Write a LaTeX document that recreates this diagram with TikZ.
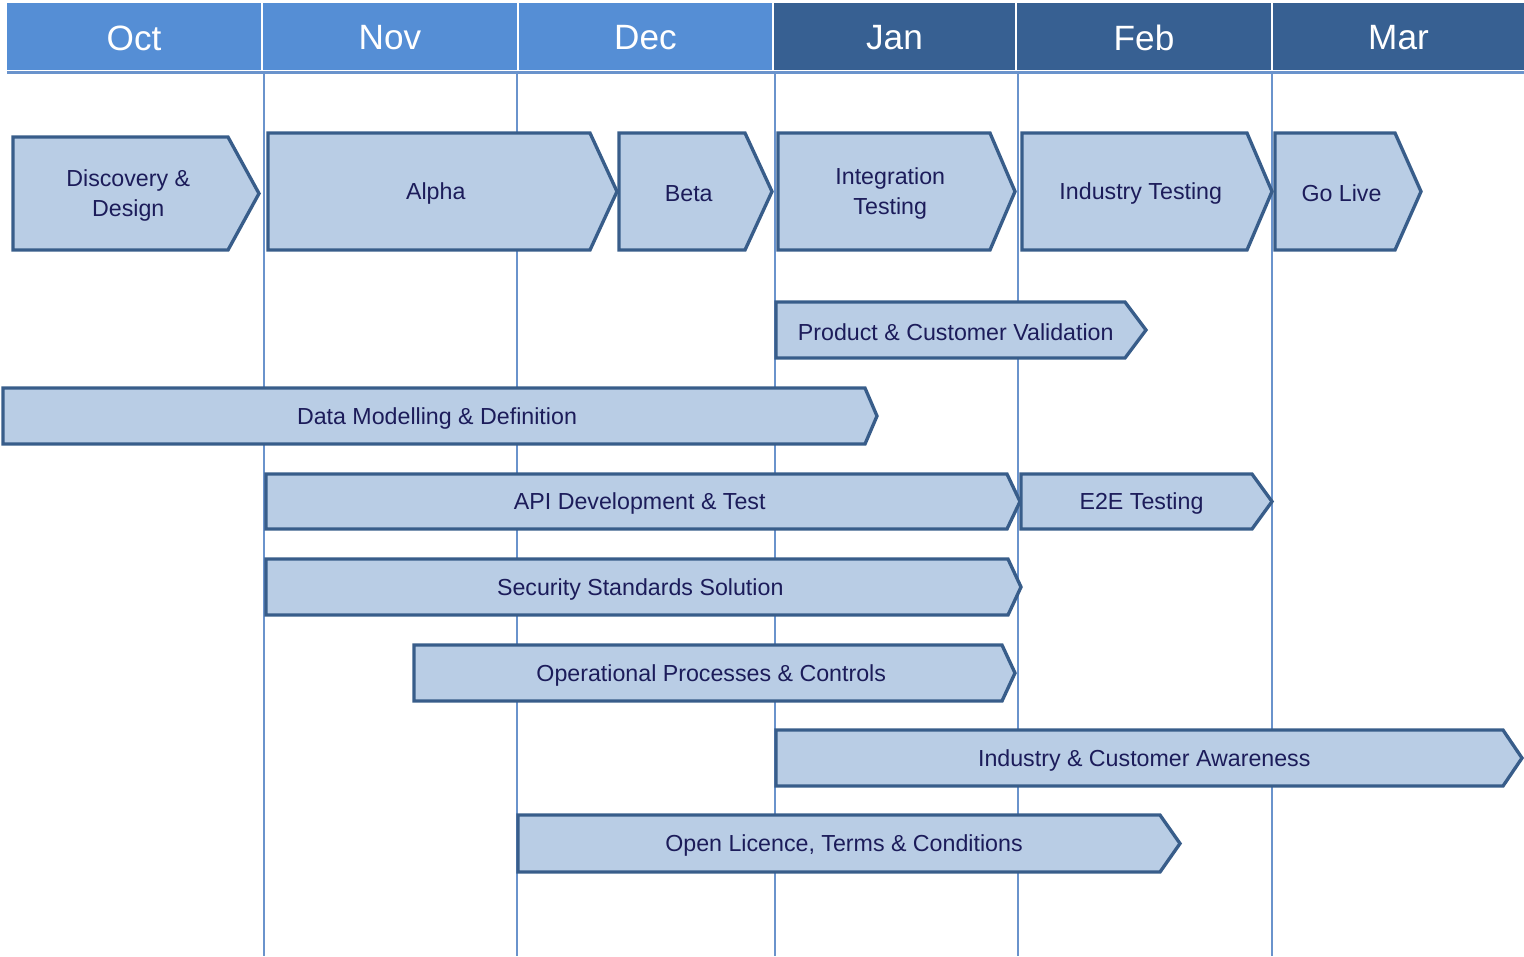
\documentclass[tikz,border=0pt]{standalone}
\usepackage{fontspec}
\setmainfont{Liberation Sans}
\usepackage{xcolor}
\usepackage{tikz}
\definecolor{headlight}{HTML}{558ED5}
\definecolor{headdark}{HTML}{376092}
\definecolor{barfill}{HTML}{B9CDE5}
\definecolor{barline}{HTML}{385D8A}
\definecolor{gridline}{HTML}{6A93CC}
\definecolor{bartext}{HTML}{1C1C5A}

\begin{document}
\begin{tikzpicture}[x=0.01cm,y=-0.01cm,
phase/.style={draw=barline,fill=barfill,line width=0.95pt,line join=miter},
label/.style={text=bartext,font=\fontsize{6.6}{8.4}\selectfont,align=center,yshift=-0.6pt},
month/.style={text=white,font=\fontsize{10}{12}\selectfont}
]
\useasboundingbox (0,0) rectangle (1524,956);

% The months
\foreach \xa/\xb/\c/\m in {7/261/headlight/Oct, 263/517/headlight/Nov, 519/772/headlight/Dec,
  774/1015/headdark/Jan, 1017/1271/headdark/Feb, 1273/1524/headdark/Mar}
{
  \fill[\c] (\xa,3) rectangle (\xb,70);
  \node[month] (\m) at ({(\xa+\xb)/2},38) {\m};
}
\draw[gridline,line width=0.8pt] (7,72.5) -- (1524,72.5);

% The month borders
\foreach \x in {264,517,775,1018,1272}
  \draw[gridline,line width=0.5pt] (\x,73) -- (\x,956);

% The phases
\foreach \xa/\xb/\xt/\ya/\yb/\n/\t in {
  13/228/259/137/250/disc/{Discovery \&\\Design},
  268/590/617/133/250/alpha/{Alpha},
  619/745/772/133/250/beta/{Beta},
  778/990/1015/133/250/integ/{Integration\\Testing},
  1022/1247/1272/133/250/indtest/{Industry Testing},
  1275/1395/1421/133/250/golive/{Go Live},
  776/1125/1146/302/358/valid/{Product \& Customer Validation},
  3/865/877/388/444/data/{Data Modelling \& Definition},
  266/1007/1020/474/529/api/{API Development \& Test},
  1021/1252/1272/474/529/etoe/{E2E Testing},
  266/1008/1021/559/615/secur/{Security Standards Solution},
  414/1002/1015/645/701/oper/{Operational Processes \& Controls},
  776/1503/1522/730/786/aware/{Industry \& Customer Awareness},
  518/1160/1180/815/872/licence/{Open Licence, Terms \& Conditions}}
{
  \draw[phase] (\xa,\ya) -- (\xb,\ya) -- (\xt,{(\ya+\yb)/2}) -- (\xb,\yb) -- (\xa,\yb) -- cycle;
  \node[label] (\n) at ({(\xa+\xb)/2+(\xt-\xb)/4},{(\ya+\yb)/2}) {\t};
}
\end{tikzpicture}
\end{document}
